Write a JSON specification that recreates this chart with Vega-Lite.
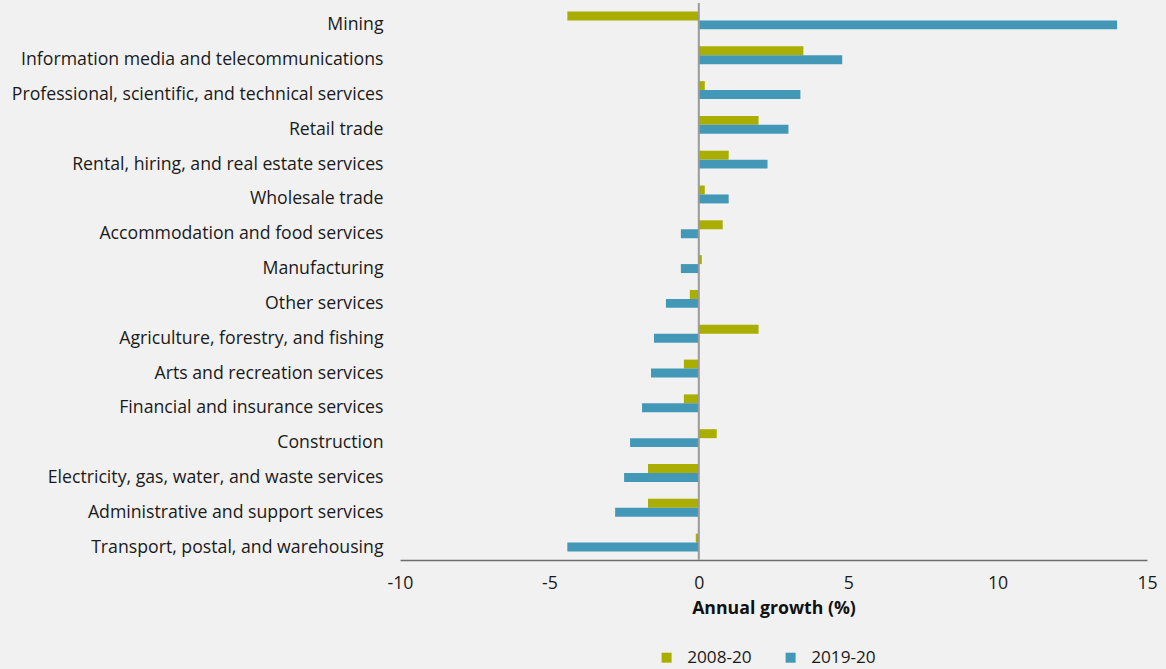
{
  "$schema": "https://vega.github.io/schema/vega-lite/v6.json",
  "width": 747,
  "height": 557,
  "autosize": {"type": "none"},
  "padding": {"left": 400, "top": 3, "right": 19, "bottom": 109},
  "background": "#f1f1f1",
  "config": {
    "view": {"stroke": null},
    "font": "Open Sans",
    "axis": {"labelFont": "Open Sans", "titleFont": "Open Sans"},
    "legend": {"labelFont": "Open Sans"}
  },
  "data": {
    "values": [
      {"industry": "Mining", "series": "2008-20", "value": -4.4},
      {"industry": "Mining", "series": "2019-20", "value": 14.0},
      {"industry": "Information media and telecommunications", "series": "2008-20", "value": 3.5},
      {"industry": "Information media and telecommunications", "series": "2019-20", "value": 4.8},
      {"industry": "Professional, scientific, and technical services", "series": "2008-20", "value": 0.2},
      {"industry": "Professional, scientific, and technical services", "series": "2019-20", "value": 3.4},
      {"industry": "Retail trade", "series": "2008-20", "value": 2.0},
      {"industry": "Retail trade", "series": "2019-20", "value": 3.0},
      {"industry": "Rental, hiring, and real estate services", "series": "2008-20", "value": 1.0},
      {"industry": "Rental, hiring, and real estate services", "series": "2019-20", "value": 2.3},
      {"industry": "Wholesale trade", "series": "2008-20", "value": 0.2},
      {"industry": "Wholesale trade", "series": "2019-20", "value": 1.0},
      {"industry": "Accommodation and food services", "series": "2008-20", "value": 0.8},
      {"industry": "Accommodation and food services", "series": "2019-20", "value": -0.6},
      {"industry": "Manufacturing", "series": "2008-20", "value": 0.1},
      {"industry": "Manufacturing", "series": "2019-20", "value": -0.6},
      {"industry": "Other services", "series": "2008-20", "value": -0.3},
      {"industry": "Other services", "series": "2019-20", "value": -1.1},
      {"industry": "Agriculture, forestry, and fishing", "series": "2008-20", "value": 2.0},
      {"industry": "Agriculture, forestry, and fishing", "series": "2019-20", "value": -1.5},
      {"industry": "Arts and recreation services", "series": "2008-20", "value": -0.5},
      {"industry": "Arts and recreation services", "series": "2019-20", "value": -1.6},
      {"industry": "Financial and insurance services", "series": "2008-20", "value": -0.5},
      {"industry": "Financial and insurance services", "series": "2019-20", "value": -1.9},
      {"industry": "Construction", "series": "2008-20", "value": 0.6},
      {"industry": "Construction", "series": "2019-20", "value": -2.3},
      {"industry": "Electricity, gas, water, and waste services", "series": "2008-20", "value": -1.7},
      {"industry": "Electricity, gas, water, and waste services", "series": "2019-20", "value": -2.5},
      {"industry": "Administrative and support services", "series": "2008-20", "value": -1.7},
      {"industry": "Administrative and support services", "series": "2019-20", "value": -2.8},
      {"industry": "Transport, postal, and warehousing", "series": "2008-20", "value": -0.1},
      {"industry": "Transport, postal, and warehousing", "series": "2019-20", "value": -4.4}
    ]
  },
  "layer": [
    {
      "mark": {"type": "bar"},
      "encoding": {
        "y": {
          "field": "industry",
          "type": "nominal",
          "sort": null,
          "scale": {"paddingInner": 0.486, "paddingOuter": 0.243},
          "axis": {
            "title": null,
            "domain": false,
            "ticks": false,
            "labelFontSize": 17.7,
            "labelColor": "#1a1a1a",
            "labelPadding": 17,
            "labelOffset": 5,
            "labelLimit": 400
          }
        },
        "yOffset": {"field": "series", "type": "nominal", "sort": ["2008-20", "2019-20"]},
        "x": {
          "field": "value",
          "type": "quantitative",
          "scale": {"domain": [-10, 15], "nice": false, "zero": false},
          "axis": {
            "values": [-10, -5, 0, 5, 10, 15],
            "labelExpr": "datum.value",
            "grid": false,
            "ticks": false,
            "domainColor": "#6e6e6e",
            "domainWidth": 1.5,
            "labelFontSize": 17.7,
            "labelColor": "#1a1a1a",
            "labelPadding": 14,
            "labelFlush": false,
            "title": "Annual growth (%)",
            "titleFontSize": 17.7,
            "titleFontWeight": "bold",
            "titleColor": "#111111",
            "titlePadding": 8
          }
        },
        "color": {
          "field": "series",
          "type": "nominal",
          "scale": {"domain": ["2008-20", "2019-20"], "range": ["#a9ae00", "#4398b8"]},
          "legend": {
            "title": null,
            "orient": "none",
            "direction": "horizontal",
            "legendX": 258,
            "legendY": 646,
            "symbolType": "square",
            "symbolSize": 100,
            "symbolStrokeWidth": 0,
            "labelFontSize": 17.2,
            "labelColor": "#1a1a1a",
            "labelOffset": 12,
            "labelBaseline": "middle",
            "columnPadding": 30
          }
        }
      }
    },
    {
      "data": {"values": [{"x": 0}]},
      "mark": {"type": "rule", "color": "#9a9a9a", "strokeWidth": 2},
      "encoding": {"x": {"field": "x", "type": "quantitative"}}
    }
  ]
}
